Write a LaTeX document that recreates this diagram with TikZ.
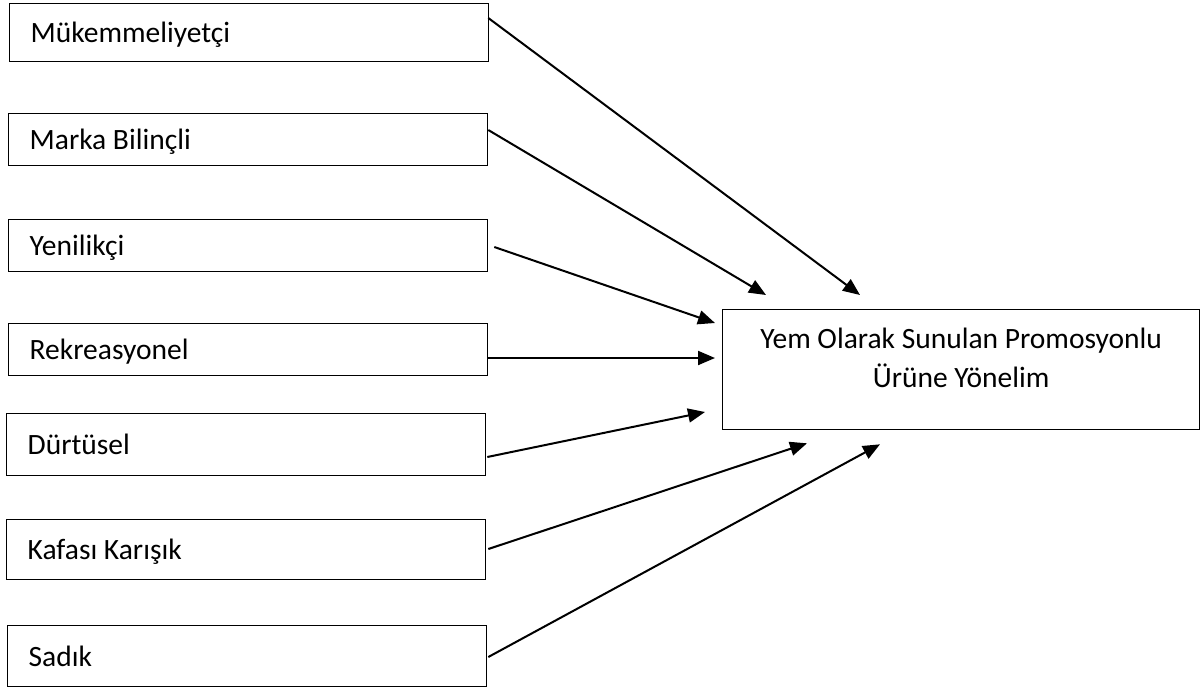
\documentclass[tikz,border=0pt]{standalone}
\usepackage{fontspec}
\setmainfont{Carlito}
\usetikzlibrary{arrows.meta,calc}
\begin{document}
\begin{tikzpicture}[x=1pt,y=-1pt,
  src/.style={draw, line width=1.3pt, anchor=north west, minimum width=479pt,
    minimum height=#1, inner xsep=21pt, inner ysep=0pt, text width=437pt,
    align=flush left, text height=22pt, text depth=2pt,
    font=\fontsize{29.5}{39}\selectfont},
  tgt/.style={draw, line width=1.3pt, anchor=north west, minimum width=477pt,
    minimum height=120pt, inner sep=0pt},
  tgttext/.style={inner sep=0pt, font=\fontsize{29.5}{39}\selectfont},
  link/.style={line width=2pt, -{Triangle[length=17pt,width=14pt]}}
]
\useasboundingbox (0,0) rectangle (1201,689);
\node[src=58pt] (m1) at (9,3) {Mükemmeliyetçi};
\node[src=52pt] (m2) at (8,113) {Marka Bilinçli};
\node[src=52pt] (m3) at (8,219) {Yenilikçi};
\node[src=52pt] (m4) at (8,323) {Rekreasyonel};
\node[src=62pt] (m5) at (6,413) {Dürtüsel};
\node[src=60pt] (m6) at (6,519) {Kafası Karışık};
\node[src=61pt] (m7) at (7,625) {Sadık};
\node[tgt] (t) at (722,309) {};
\node[tgttext] (tt) at ($(t.center)+(0,-9.3)$) {\begin{tabular}{@{}c@{}}Yem Olarak Sunulan Promosyonlu\\Ürüne Yönelim\end{tabular}};
\draw[link] ($(m1.north east)+(-1,15)$) -- ($(t.north west)+(138,-14)$);
\draw[link] ($(m2.north east)+(0,17)$) -- ($(t.north west)+(44,-14)$);
\draw[link] ($(m3.north east)+(6,28)$) -- ($(t.north west)+(-7,14)$);
\draw[link] ($(m4.north east)+(0,35)$) -- ($(t.north west)+(-7,49)$);
\draw[link] ($(m5.north east)+(1,44)$) -- ($(t.north west)+(-17,103)$);
\draw[link] ($(m6.north east)+(2,30)$) -- ($(t.south west)+(85,13)$);
\draw[link] ($(m7.north east)+(1,32)$) -- ($(t.south west)+(158,14)$);
\end{tikzpicture}
\end{document}
